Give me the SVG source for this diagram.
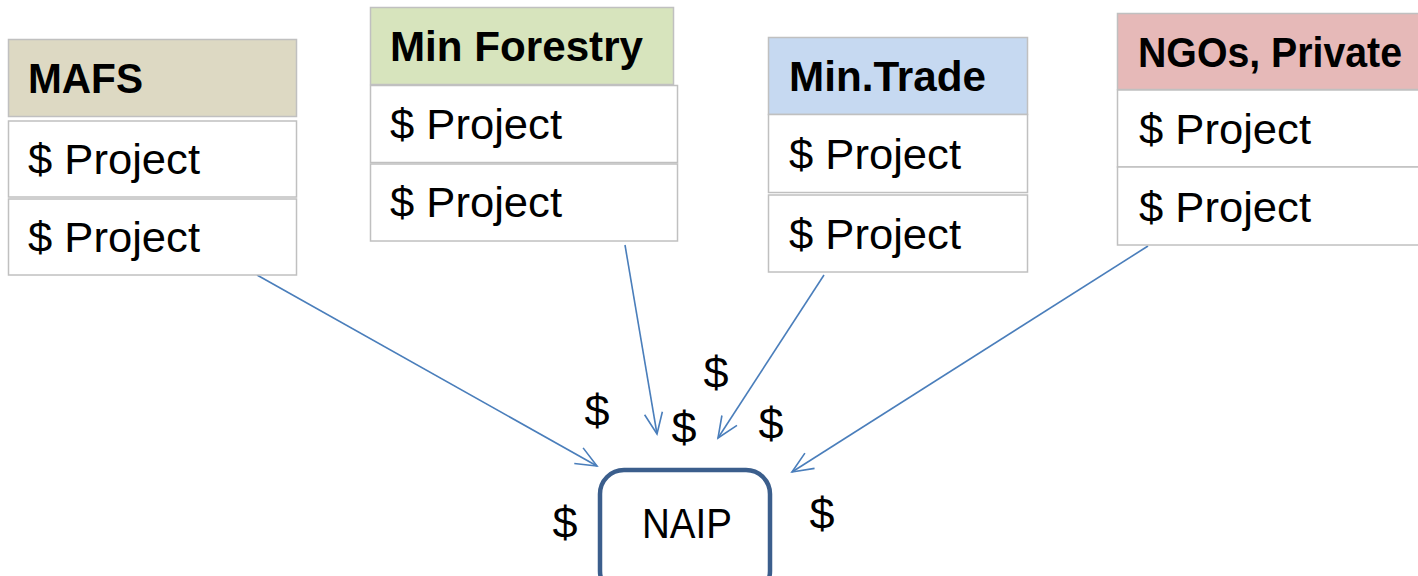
<svg xmlns="http://www.w3.org/2000/svg" width="1418" height="576" viewBox="0 0 1418 576">
  <style>
    .cell { fill: #ffffff; stroke: #c0c0c0; stroke-width: 1.5; }
    .hdr { stroke: #c0c0c0; stroke-width: 1.5; }
    .t { font-family: "Liberation Sans", Arial, sans-serif; font-size: 43px; fill: #000000; }
    .b { font-weight: bold; }
    .d { font-family: "Liberation Sans", Arial, sans-serif; font-size: 45px; fill: #000000; text-anchor: middle; }
    .conn { stroke: #4a7ebb; stroke-width: 1.6; fill: none; marker-end: url(#arrow); }
  </style>
  <defs>
    <marker id="arrow" markerUnits="userSpaceOnUse" markerWidth="30" markerHeight="24" viewBox="-24 -12 30 24" refX="0" refY="0" orient="auto">
      <path d="M -21,-9 L 0,0 L -21,9" fill="none" stroke="#4a7ebb" stroke-width="1.6"/>
    </marker>
  </defs>
  <rect width="1418" height="576" fill="#ffffff"/>

  <!-- connectors -->
  <g id="connectors">
    <line class="conn" x1="257" y1="275" x2="597" y2="466"/>
    <line class="conn" x1="625" y1="245" x2="657" y2="434"/>
    <line class="conn" x1="824" y1="275" x2="718" y2="438"/>
    <line class="conn" x1="1148" y1="246" x2="792" y2="472"/>
  </g>

  <!-- MAFS -->
  <g id="mafs">
    <rect class="hdr" x="8.5" y="39.5" width="288" height="77" fill="#ddd9c3"/>
    <rect class="cell" x="8.5" y="121" width="288" height="76"/>
    <rect class="cell" x="8.5" y="199" width="288" height="76"/>
    <text class="t b" x="28" y="93" textLength="115" lengthAdjust="spacingAndGlyphs">MAFS</text>
    <text class="t" x="28" y="174" textLength="172" lengthAdjust="spacingAndGlyphs">$ Project</text>
    <text class="t" x="28" y="252" textLength="172" lengthAdjust="spacingAndGlyphs">$ Project</text>
  </g>

  <!-- Min Forestry -->
  <g id="min-forestry">
    <rect class="hdr" x="370.5" y="7.5" width="303" height="77" fill="#d7e4bd"/>
    <rect class="cell" x="370.5" y="85.5" width="307" height="77"/>
    <rect class="cell" x="370.5" y="164" width="307" height="77"/>
    <text class="t b" x="390" y="61" textLength="253" lengthAdjust="spacingAndGlyphs">Min Forestry</text>
    <text class="t" x="390" y="139" textLength="172" lengthAdjust="spacingAndGlyphs">$ Project</text>
    <text class="t" x="390" y="217" textLength="172" lengthAdjust="spacingAndGlyphs">$ Project</text>
  </g>

  <!-- Min.Trade -->
  <g id="min-trade">
    <rect class="hdr" x="768.5" y="37.5" width="259" height="77" fill="#c6d9f1"/>
    <rect class="cell" x="768.5" y="114.5" width="259" height="78"/>
    <rect class="cell" x="768.5" y="195" width="259" height="77"/>
    <text class="t b" x="789" y="91" textLength="197" lengthAdjust="spacingAndGlyphs">Min.Trade</text>
    <text class="t" x="789" y="169" textLength="172" lengthAdjust="spacingAndGlyphs">$ Project</text>
    <text class="t" x="789" y="249" textLength="172" lengthAdjust="spacingAndGlyphs">$ Project</text>
  </g>

  <!-- NGOs, Private (right border sits just past the edge) -->
  <g id="ngos-private">
    <rect class="hdr" x="1117.5" y="13.5" width="302" height="76" fill="#e6b9b8"/>
    <rect class="cell" x="1117.5" y="90" width="302" height="77"/>
    <rect class="cell" x="1117.5" y="167" width="302" height="78"/>
    <text class="t b" x="1138" y="67" font-size="41" textLength="264" lengthAdjust="spacingAndGlyphs">NGOs, Private</text>
    <text class="t" x="1139" y="144" textLength="172" lengthAdjust="spacingAndGlyphs">$ Project</text>
    <text class="t" x="1139" y="222" textLength="172" lengthAdjust="spacingAndGlyphs">$ Project</text>
  </g>

  <!-- NAIP -->
  <g id="naip">
    <rect x="600" y="470" width="170" height="125" rx="24" ry="24" fill="#ffffff" stroke="#3b5e8c" stroke-width="4.5"/>
    <text class="t" x="642" y="538" textLength="90" lengthAdjust="spacingAndGlyphs">NAIP</text>
  </g>

  <!-- floating dollar signs -->
  <g id="dollars">
    <text class="d" x="597" y="426">$</text>
    <text class="d" x="716" y="388">$</text>
    <text class="d" x="684" y="443">$</text>
    <text class="d" x="771" y="439">$</text>
    <text class="d" x="565" y="538">$</text>
    <text class="d" x="822" y="529">$</text>
  </g>
</svg>
